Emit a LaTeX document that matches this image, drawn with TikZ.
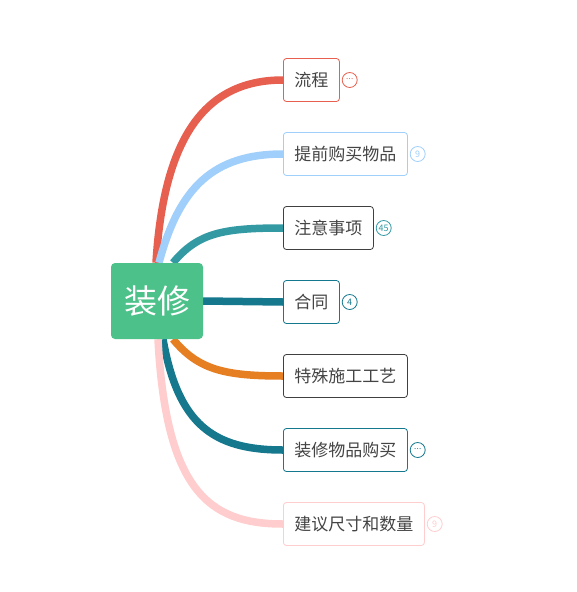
\documentclass[tikz,border=0pt]{standalone}
\usepackage{fontspec}
\setmainfont{Noto Sans CJK SC}
\usepackage{xcolor}
\usepackage{tikz}
\usetikzlibrary{backgrounds,positioning}

\definecolor{rootgreen}{HTML}{4DC18A}
\definecolor{cRed}{HTML}{E65F4F}
\definecolor{cBlue}{HTML}{A0CFFB}
\definecolor{cTeal}{HTML}{3399A3}
\definecolor{cDark}{HTML}{15788D}
\definecolor{cOrange}{HTML}{E67E22}
\definecolor{cPink}{HTML}{FFCDCD}
\definecolor{txt}{HTML}{444444}

\newcommand{\moredots}{\raisebox{2.5pt}{\fontsize{8}{8}\selectfont.\kern0.2pt.\kern0.2pt.}}

\begin{document}
\begin{tikzpicture}[x=1pt, y=-1pt,
    root/.style={fill=rootgreen, rounded corners=4pt, text=white,
                 minimum width=92pt, minimum height=76pt, inner sep=0pt,
                 font=\fontsize{33}{35}\selectfont},
    topic/.style={draw=#1, fill=white, rounded corners=3pt, text=txt,
                  minimum height=43pt, inner xsep=11pt, inner ysep=0pt,
                  line width=0.8pt, font=\fontsize{17}{19}\selectfont},
    badge/.style={draw=#1, text=#1, circle, minimum size=15pt, inner sep=0pt,
                  line width=0.8pt, font=\fontsize{9}{10}\selectfont},
    branch/.style={line width=7.5pt, draw=#1}
  ]
  \useasboundingbox (0,0) rectangle (577,592);

  \node[root] (zx) at (157,301) {装修};

  \node[topic=cRed, anchor=west]     (lc)   at (283,80)  {流程};
  \node[topic=cBlue, anchor=west]    (tq)   at (283,154) {提前购买物品};
  \node[topic=black!75, anchor=west] (zy)   at (283,228) {注意事项};
  \node[topic=cDark, anchor=west]    (ht)   at (283,302) {合同};
  \node[topic=black!75, anchor=west] (ts)   at (283,376) {特殊施工工艺};
  \node[topic=cDark, anchor=west]    (gm)   at (283,450) {装修物品购买};
  \node[topic=cPink, anchor=west]    (jy)   at (283,524) {建议尺寸和数量};

  \node[badge=cRed, right=2pt of lc]   (lcb) {\moredots};
  \node[badge=cBlue, right=2pt of tq]  (tqb) {9};
  \node[badge=cTeal, right=2pt of zy]  (zyb) {45};
  \node[badge=cDark, right=2pt of ht]  (htb) {4};
  \node[badge=cDark, right=2pt of gm]  (gmb) {\moredots};
  \node[badge=cPink, right=2pt of jy]  (jyb) {9};

  \begin{scope}[on background layer]
    \draw[branch=cRed]    ([xshift=-1pt]zx.north) .. controls +(8,-130) and +(-75,0) .. (lc.west);
    \draw[branch=cBlue]   ([xshift=2pt]zx.north)  .. controls +(20,-75) and +(-70,0) .. (tq.west);
    \draw[branch=cTeal]   ([xshift=16pt]zx.north) .. controls +(25,-30) and +(-60,0) .. (zy.west);
    \draw[branch=cDark]   (zx.east) -- (ht.west);
    \draw[branch=cOrange] ([xshift=16pt]zx.south) .. controls +(25,30) and +(-60,0) .. (ts.west);
    \draw[branch=cDark]   ([xshift=6pt]zx.south)  .. controls +(15,85) and +(-70,0) .. (gm.west);
    \draw[branch=cPink]   ([xshift=1pt]zx.south)  .. controls +(8,150) and +(-75,0) .. (jy.west);
  \end{scope}
\end{tikzpicture}
\end{document}
